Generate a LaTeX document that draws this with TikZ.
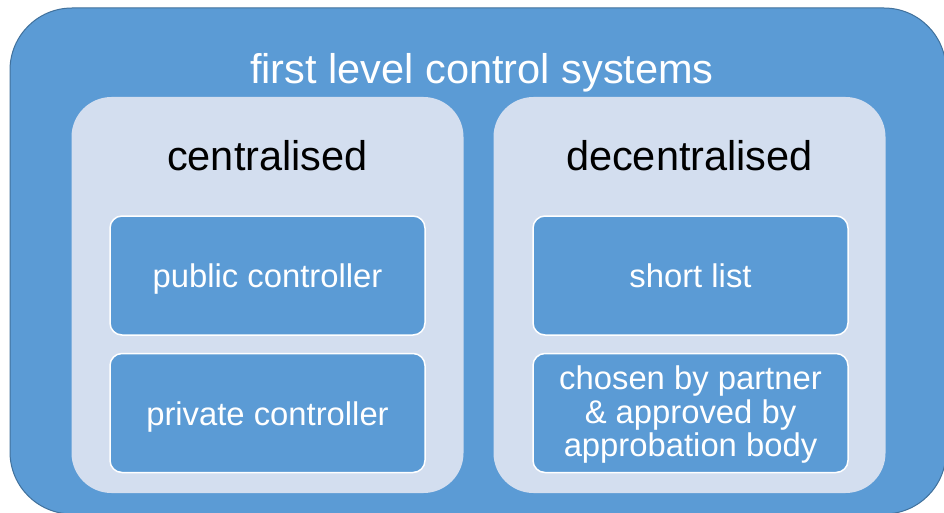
\documentclass[tikz,border=0pt]{standalone}
\usepackage{fontspec}
\setmainfont{Liberation Sans}
\usetikzlibrary{positioning}
\definecolor{boxblue}{HTML}{5B9BD5}
\definecolor{boxline}{HTML}{41719C}
\definecolor{paleblue}{HTML}{D3DEEF}

\begin{document}
\begin{tikzpicture}[x=1pt,y=-1pt,
	group/.style={fill=paleblue,rounded corners=40pt,minimum width=392pt,minimum height=396pt},
	item/.style={draw=white,line width=1.5pt,fill=boxblue,rounded corners=12pt,
		minimum width=315pt,minimum height=119pt,text=white,align=center,
		font=\fontsize{32.8}{33.8}\selectfont},
	oneline/.style={text height=24pt,text depth=0pt},
	heading/.style={font=\fontsize{41.5}{44}\selectfont,text depth=0pt}]
		\useasboundingbox (0,0) rectangle (944,513);
		% outer frame
		\draw[boxline,fill=boxblue,line width=1pt,rounded corners=62pt] (10,8) rectangle (946,514);
		\node[heading,text=white] (title) at (482,68) {first level control systems};
		% the two groups
		\node[group] (central) at (267.5,295) {};
		\node[group] (decentral) at (689.5,295) {};
		\node[heading] (centralhead) at (267.5,155) {centralised};
		\node[heading] (decentralhead) at (689.5,155) {decentralised};
		% items
		\node[item,oneline] (public) at (267.5,275.5) {public controller};
		\node[item,oneline] (private) at (267.5,413) {private controller};
		\node[item,oneline] (shortlist) at (690.5,275.5) {short list};
		\node[item,inner ysep=0pt] (partner) at (690.5,413) {\rule{0pt}{27pt}chosen by partner\\ \& approved by\\ approbation body};
	\end{tikzpicture}
\end{document}
